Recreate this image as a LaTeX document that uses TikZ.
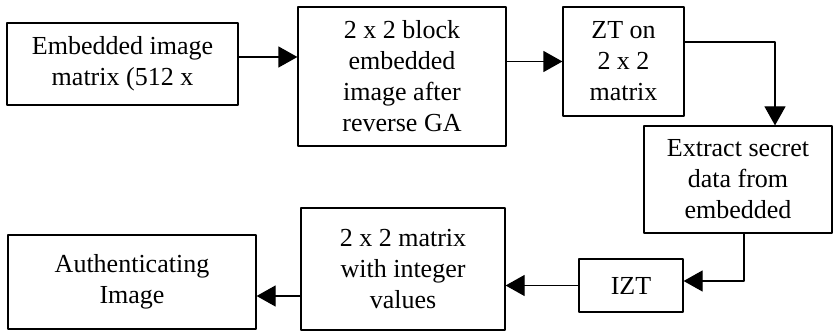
\documentclass[tikz,border=0pt]{standalone}
\usepackage{fontspec}
\setmainfont{Liberation Serif}
\usetikzlibrary{arrows.meta}
\tikzset{blk/.style={draw,line width=1.2bp,inner sep=0pt,align=center,font=\fontsize{26bp}{31bp}\selectfont}}
\begin{document}
\begin{tikzpicture}[>={Triangle[length=19bp,width=21bp]},line join=bevel,line width=1.2bp]
\useasboundingbox (0bp,0bp) rectangle (833bp,331bp);
%%
\node (node_0) at (122.5bp,267bp) [blk,minimum width=231bp,minimum height=82bp] {Embedded image\\matrix (512 x};
  \node (node_1) at (402bp,254.5bp) [blk,minimum width=208bp,minimum height=139bp] {2 x 2 block\\embedded\\image after\\reverse GA};
  \node (node_2) at (623.5bp,269.5bp) [blk,minimum width=121bp,minimum height=109bp] {ZT on\\2 x 2\\matrix};
  \node (node_3) at (738bp,151.5bp) [blk,minimum width=188bp,minimum height=107bp] {Extract secret\\data from\\embedded};
  \node (node_4) at (631bp,45.5bp) [blk,minimum width=104bp,minimum height=53bp] {IZT};
  \node (node_5) at (403bp,62bp) [blk,minimum width=204bp,minimum height=122bp] {2 x 2 matrix\\with integer\\values};
  \node (node_6) at (132bp,49bp) [blk,minimum width=248bp,minimum height=94bp] {Authenticating\\Image};
  \draw [black,->] ([yshift=7bp]node_0.east) -- ([yshift=7bp]node_0.east -| node_1.west);
  \draw [black,->] (node_1.east |- node_2) -- (node_2.west);
  \draw [black,->] ([yshift=19.5bp]node_2.east) -| ([xshift=37bp]node_3.north);
  \draw [black,->] ([xshift=6bp]node_3.south) |- ([yshift=4.5bp]node_4.east);
  \draw [black,->] (node_4.west) -- (node_4.west -| node_5.east);
  \draw [black,->] ([yshift=-27bp]node_5.west) -- ([yshift=-27bp]node_5.west -| node_6.east);
%
\end{tikzpicture}
\end{document}
